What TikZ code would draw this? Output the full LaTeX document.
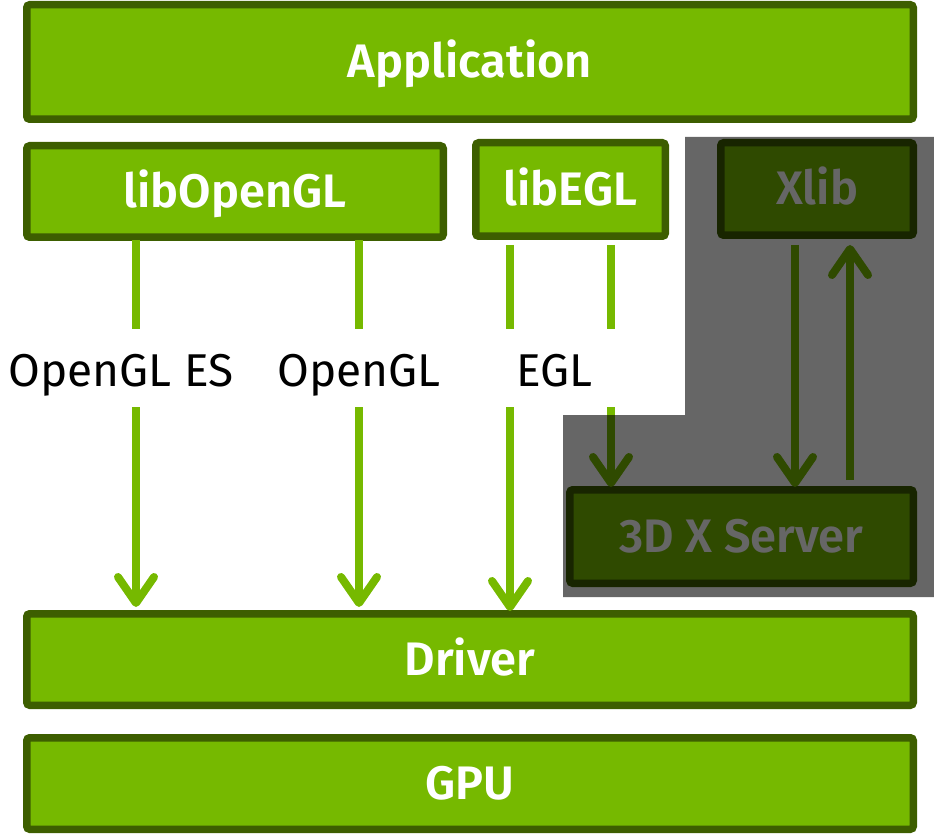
\documentclass[tikz,border=0pt]{standalone}
\usepackage{fontspec}
\setmainfont{Fira Sans}[BoldFont={Fira Sans SemiBold}]
\usetikzlibrary{arrows.meta}
\definecolor{nvgreen}{HTML}{76B900}
\definecolor{nvdark}{HTML}{3D5E00}
\begin{document}
\begin{tikzpicture}[x=1pt,y=-1pt,
  box/.style={draw=nvdark, fill=nvgreen, line width=7.5pt, rounded corners=3pt,
    text=white, font=\fontsize{47}{50}\selectfont\bfseries, inner sep=0pt,
    text height=32pt, text depth=0pt},
  lbl/.style={font=\fontsize{46}{50}\selectfont, text=black, inner sep=0pt,
    text height=57pt, text depth=21pt, anchor=base},
  conn/.style={draw=nvgreen, line width=8pt},
  arr/.style={conn, -{Straight Barb[length=26pt,width=36pt,line cap=round,line join=round]}}]
\useasboundingbox (0,0) rectangle (934,834);
\node[box, minimum width=886.5pt, minimum height=114.5pt] (app) at (470,62) {Application};
\node[box, minimum width=416.5pt, minimum height=91.5pt] (libgl) at (235,191.5) {libOpenGL};
\node[box, minimum width=189.5pt, minimum height=93.5pt] (libegl) at (570.5,189.5) {libEGL};
\node[box, minimum width=192.5pt, minimum height=92.5pt] (xlib) at (817,189) {Xlib};
\node[box, minimum width=343.5pt, minimum height=93.5pt] (xserv) at (741.5,536.5) {3D X Server};
\node[box, minimum width=886.5pt, minimum height=91.5pt] (drv) at (470,659.5) {Driver};
\node[box, minimum width=886.5pt, minimum height=91.5pt] (gpu) at (470,783.5) {GPU};
% labels
\node[lbl] (les) at (121,386) {OpenGL ES};
\node[lbl] (lgl) at (359,386) {OpenGL};
\node[lbl] (legl) at (554,386) {EGL};
\coordinate (g1) at (611,329);
\coordinate (g2) at (611,407);
% OpenGL ES
\draw[conn] (136,240) coordinate (a1) -- (a1 |- les.north);
\draw[arr] (a1 |- les.south) -- (136,607) coordinate (b1);
% OpenGL
\draw[conn] (359,240) coordinate (a2) -- (a2 |- lgl.north);
\draw[arr] (a2 |- lgl.south) -- (359,607) coordinate (b2);
% EGL
\draw[conn] (510,245) coordinate (a3) -- (a3 |- legl.north);
\draw[arr] (a3 |- legl.south) -- (510,611) coordinate (b3);
\draw[conn] (611,245) coordinate (a4) -- (g1);
\draw[arr] (g2) -- (611,487) coordinate (b4);
% Xlib <-> X server
\draw[arr] (795,245) coordinate (a5) -- (795,487) coordinate (b5);
\draw[arr] (850,480) coordinate (a6) -- (850,245) coordinate (b6);
% overlay
\fill[black, opacity=0.6] (685,137) -- (934,137) -- (934,597) -- (563,597) -- (563,415) -- (685,415) -- cycle;
\end{tikzpicture}
\end{document}
